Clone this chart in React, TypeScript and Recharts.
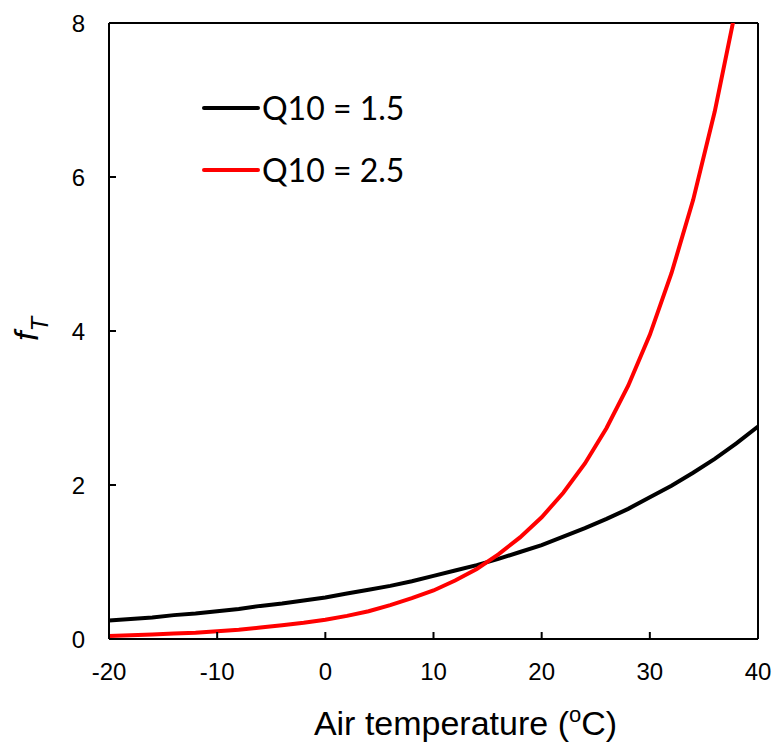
import React from "react";
import { LineChart, Line, XAxis, YAxis, ReferenceLine } from "recharts";

const temps = [-20, -18, -16, -14, -12, -10, -8, -6, -4, -2, 0, 2, 4, 6, 8, 10, 12, 14, 16, 18, 20, 22, 24, 26, 28, 30, 32, 34, 36, 38, 40];
const q15 = [0.24, 0.26, 0.28, 0.31, 0.33, 0.36, 0.39, 0.43, 0.46, 0.5, 0.54, 0.59, 0.64, 0.69, 0.75, 0.82, 0.89, 0.96, 1.04, 1.13, 1.22, 1.33, 1.44, 1.56, 1.69, 1.84, 1.99, 2.16, 2.34, 2.54, 2.76];
const q25 = [0.04, 0.05, 0.06, 0.07, 0.08, 0.1, 0.12, 0.15, 0.18, 0.21, 0.25, 0.3, 0.36, 0.44, 0.53, 0.63, 0.76, 0.91, 1.1, 1.32, 1.58, 1.9, 2.28, 2.74, 3.29, 3.95, 4.75, 5.7, 6.85, 8.22, null];
const xTicks = [-20, -10, 0, 10, 20, 30, 40];
const yTicks = [0, 2, 4, 6, 8];
const seriesNames = ["Q10 = 1.5", "Q10 = 2.5"];
const seriesColors = ["#000000", "#ff0000"];

const data = temps.map((t, i) => ({ t, a: q15[i], b: q25[i] }));

const FONT = "'Liberation Sans', Arial, sans-serif";
const GAP = 24; // label distance from axis line
const TICK = 7; // inward tick length

// tick mark pointing into the plot + label
function XTick(props: any) {
  const { x, y, payload } = props;
  const axisY = y - GAP;
  return (
    <g>
      <line x1={x} x2={x} y1={axisY} y2={axisY - TICK} stroke="#000" strokeWidth={2} />
      <text x={x} y={y} dy="0.71em" textAnchor="middle" fontFamily={FONT} fontSize={24} fill="#000">
        {payload.value}
      </text>
    </g>
  );
}

function YTick(props: any) {
  const { x, y, payload } = props;
  const axisX = x + GAP;
  return (
    <g>
      <line x1={axisX} x2={axisX + TICK} y1={y} y2={y} stroke="#000" strokeWidth={2} />
      <text x={x} y={y} dy="0.355em" textAnchor="end" fontFamily={FONT} fontSize={24} fill="#000">
        {payload.value}
      </text>
    </g>
  );
}

// legend drawn as an overlay so it doesn't shrink the plot area
function LegendBox() {
  return (
    <svg width={300} height={150} style={{ position: "absolute", left: 190, top: 70 }}>
      {seriesNames.map((name, i) => (
        <g key={name}>
          <line x1={14} x2={68} y1={38 + i * 62} y2={38 + i * 62} stroke={seriesColors[i]} strokeWidth={4} strokeLinecap="round" />
          <text x={72} y={38 + i * 62} dy="0.36em" fontFamily="Lato, 'Open Sans', sans-serif" fontSize={32} fill="#000">
            {name}
          </text>
        </g>
      ))}
    </svg>
  );
}

function XTitle(props: any) {
  const vb = props.viewBox || {};
  const cx = vb.x + vb.width / 2 + 32;
  return (
    <text x={cx} y={735} textAnchor="middle" fontFamily={FONT} fontSize={34} fill="#000">
      <tspan>Air temperature (</tspan>
      <tspan dy={-13} fontSize={22}>o</tspan>
      <tspan dy={13}>C)</tspan>
    </text>
  );
}

function YTitle() {
  return (
    <text transform="translate(38,341) rotate(-90)" fontFamily={FONT} fontSize={34} fontStyle="italic" fill="#000">
      <tspan>f</tspan>
      <tspan dy={10} fontSize={24}>T</tspan>
    </text>
  );
}

export default function App() {
  return (
    <div style={{ position: "absolute", left: 0, top: 0, width: 774, height: 744, background: "#fff" }}>
      <LineChart width={774} height={744} data={data} margin={{ top: 23, right: 16, bottom: 45, left: 49 }}>
        <XAxis
          dataKey="t"
          type="number"
          domain={[-20, 40]}
          ticks={xTicks}
          allowDataOverflow
          stroke="#000"
          strokeWidth={2}
          tickLine={false}
          tickSize={0}
          tickMargin={GAP}
          tick={<XTick />}
          height={60}
          label={{ content: <XTitle /> }}
        />
        <YAxis
          type="number"
          domain={[0, 8]}
          ticks={yTicks}
          allowDataOverflow
          stroke="#000"
          strokeWidth={2}
          tickLine={false}
          tickSize={0}
          tickMargin={GAP}
          tick={<YTick />}
          width={60}
          label={{ content: <YTitle /> }}
        />
        <ReferenceLine y={8} stroke="#000" strokeWidth={2} />
        <ReferenceLine x={40} stroke="#000" strokeWidth={2} />
        <Line dataKey="a" name={seriesNames[0]} stroke={seriesColors[0]} strokeWidth={4} dot={false} isAnimationActive={false} />
        <Line dataKey="b" name={seriesNames[1]} stroke={seriesColors[1]} strokeWidth={4} dot={false} isAnimationActive={false} />
      </LineChart>
      <LegendBox />
    </div>
  );
}
